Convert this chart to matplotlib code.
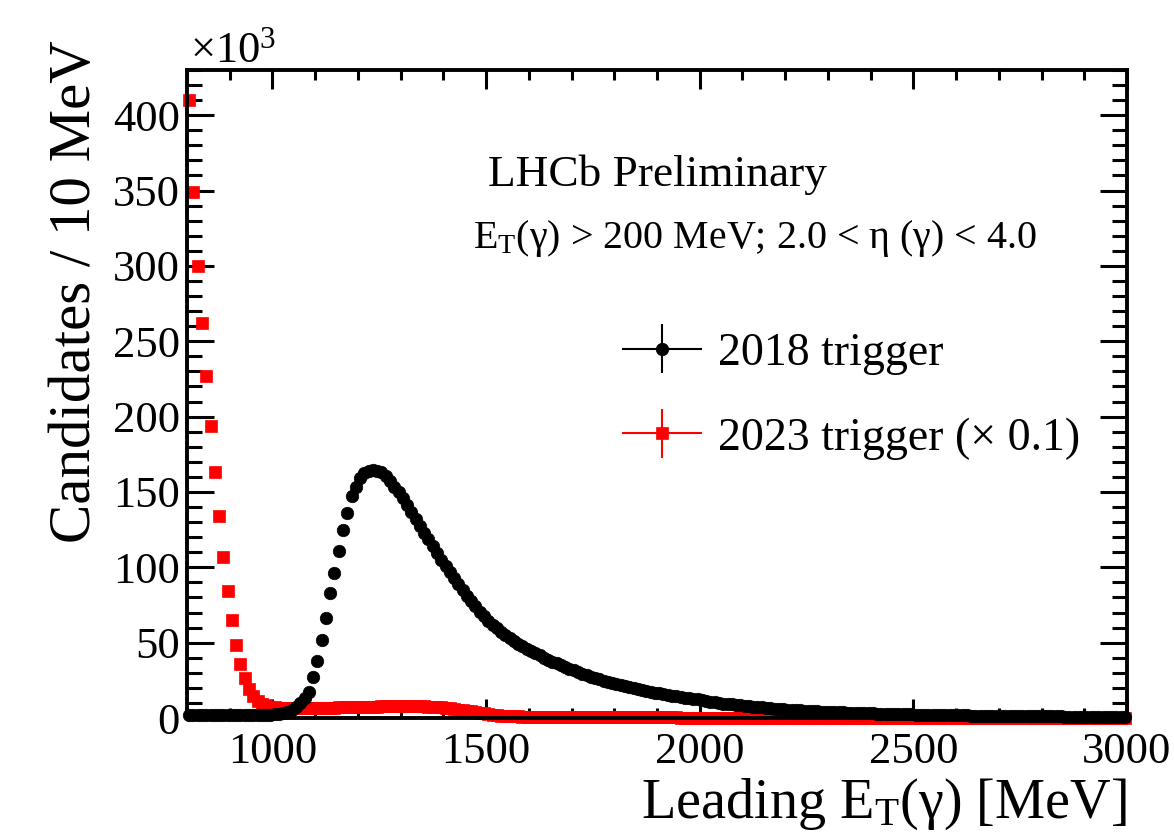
"""LHCb Preliminary: leading photon E_T, 2018 vs 2023 trigger."""

import numpy as np
import matplotlib
matplotlib.use("Agg")
import matplotlib.pyplot as plt
from matplotlib.ticker import MultipleLocator
from matplotlib.container import ErrorbarContainer
from matplotlib.legend_handler import HandlerErrorbar

plt.rcParams['font.family'] = ['Liberation Serif', 'DejaVu Serif']
plt.rcParams['mathtext.fontset'] = 'custom'
plt.rcParams['mathtext.rm'] = 'Liberation Serif'
plt.rcParams['mathtext.it'] = 'Liberation Serif:italic'
plt.rcParams['mathtext.bf'] = 'Liberation Serif:bold'

# histogram binning (MeV)
bin_lo = 800
bin_width = 10

# candidates per bin, in units of 10^3 (bins 800-810, 810-820, ...)
trig2018 = [
    2.2, 2.1, 2.0, 2.0, 1.9, 1.9, 1.9, 1.8, 1.8, 1.8,
    1.8, 1.8, 1.8, 1.8, 1.9, 1.9, 2.0, 2.0, 2.1, 2.2,
    2.4, 2.7, 3.2, 4.0, 5.2, 7.0, 10.0, 13.0, 17.5, 27.0,
    38.0, 52.0, 66.5, 83.0, 96.5, 110.5, 124.5, 136.0, 147.0, 153.5,
    159.0, 162.5, 164.0, 164.5, 164.0, 163.0, 160.5, 157.0, 153.5, 150.0,
    146.0, 141.5, 137.0, 132.0, 127.5, 123.0, 118.5, 114.0, 109.5, 105.0,
    101.0, 97.0, 93.0, 89.0, 85.0, 81.0, 77.5, 74.0, 70.5, 67.5,
    64.5, 62.0, 59.5, 57.0, 55.0, 53.0, 51.0, 49.0, 47.5, 46.0,
    44.5, 43.0, 41.5, 40.0, 38.7, 37.4, 36.2, 35.0, 33.8, 32.7,
    31.6, 30.5, 29.5, 28.5, 27.5, 26.6, 25.7, 24.8, 24.0, 23.2,
    22.4, 21.7, 21.0, 20.3, 19.7, 19.1, 18.5, 17.9, 17.3, 16.8,
    16.3, 15.8, 15.3, 14.8, 14.3, 13.9, 13.5, 13.1, 12.7, 12.3,
    11.7, 11.2, 10.8, 10.4, 10.0, 9.6, 9.3, 9.0, 8.7, 8.4,
    8.1, 7.8, 7.5, 7.2, 7.0, 6.7, 6.5, 6.3, 6.0, 5.8,
    5.6, 5.4, 5.2, 5.0, 4.9, 4.7, 4.5, 4.4, 4.3, 4.1,
    4.0, 3.9, 3.8, 3.7, 3.6, 3.5, 3.4, 3.3, 3.2, 3.1,
    3.0, 2.9, 2.9, 2.8, 2.7, 2.6, 2.6, 2.5, 2.4, 2.4,
    2.3, 2.3, 2.2, 2.1, 2.1, 2.0, 2.0, 1.9, 1.9, 1.8,
    1.8, 1.7, 1.7, 1.6, 1.6, 1.6, 1.5, 1.5, 1.4, 1.4,
    1.4, 1.3, 1.3, 1.3, 1.2, 1.2, 1.2, 1.1, 1.1, 1.1,
    1.1, 1.0, 1.0, 1.0, 1.0, 0.9, 0.9, 0.9, 0.9, 0.8,
    0.8, 0.8, 0.8, 0.8, 0.7, 0.7, 0.7, 0.7, 0.7, 0.6,
]

# 2023 trigger, already scaled by 0.1
trig2023 = [
    410.0, 349.0, 300.0, 262.0, 227.0, 194.0, 163.0, 134.0, 107.0, 84.0,
    65.0, 48.5, 36.0, 26.5, 19.5, 14.5, 11.5, 9.5, 8.3, 7.6,
    7.2, 6.9, 6.7, 6.6, 6.5, 6.5, 6.5, 6.5, 6.5, 6.5,
    6.6, 6.6, 6.7, 6.8, 6.9, 7.0, 7.1, 7.2, 7.3, 7.4,
    7.4, 7.5, 7.5, 7.6, 7.6, 7.7, 7.7, 7.8, 7.8, 7.8,
    7.9, 7.9, 7.9, 7.9, 7.8, 7.7, 7.6, 7.4, 7.2, 7.0,
    6.7, 6.4, 6.0, 5.6, 5.2, 4.8, 4.4, 4.0, 3.6, 3.2,
    2.6, 2.2, 1.9, 1.6, 1.4, 1.2, 1.1, 1.0, 0.9, 0.8,
    0.8, 0.7, 0.7, 0.7, 0.6, 0.6, 0.6, 0.6, 0.5, 0.5,
    0.5, 0.5, 0.5, 0.5, 0.5, 0.4, 0.4, 0.4, 0.4, 0.4,
    0.4, 0.4, 0.4, 0.4, 0.4, 0.4, 0.4, 0.4, 0.4, 0.4,
    0.4, 0.4, 0.4, 0.4, 0.4, 0.3, 0.3, 0.3, 0.3, 0.3,
    0.3, 0.3, 0.3, 0.3, 0.3, 0.3, 0.3, 0.3, 0.3, 0.3,
    0.3, 0.3, 0.3, 0.3, 0.3, 0.3, 0.3, 0.3, 0.3, 0.3,
    0.3, 0.3, 0.3, 0.3, 0.3, 0.3, 0.3, 0.3, 0.3, 0.3,
    0.3, 0.3, 0.3, 0.3, 0.3, 0.3, 0.3, 0.3, 0.3, 0.3,
    0.2, 0.2, 0.2, 0.2, 0.2, 0.2, 0.2, 0.2, 0.2, 0.2,
    0.2, 0.2, 0.2, 0.2, 0.2, 0.2, 0.2, 0.2, 0.2, 0.2,
    0.2, 0.2, 0.2, 0.2, 0.2, 0.2, 0.2, 0.2, 0.2, 0.2,
    0.2, 0.2, 0.2, 0.2, 0.2, 0.2, 0.2, 0.2, 0.2, 0.2,
    0.2, 0.2, 0.2, 0.2, 0.2, 0.2, 0.2, 0.2, 0.2, 0.2,
    0.2, 0.2, 0.2, 0.2, 0.2, 0.2, 0.2, 0.2, 0.2, 0.2,
]

label2018 = "2018 trigger"
label2023 = "2023 trigger (\u00d7 0.1)"

x = bin_lo + bin_width * (np.arange(len(trig2018)) + 0.5)

W, H = 1174, 839
fig = plt.figure(figsize=(W / 100, H / 100), dpi=100)
ax = fig.add_axes([187 / W, 1 - 718 / H, 940 / W, 648 / H])

style23 = dict(fmt='s', color='red', ms=9, mew=0.5, elinewidth=1.5, capsize=0)
style18 = dict(fmt='o', color='black', ms=9, mew=0.5, elinewidth=1.5, capsize=0)

# red first so black sits on top
ax.errorbar(x, trig2023, xerr=bin_width / 2, zorder=2, clip_on=False, **style23)
ax.errorbar(x, trig2018, xerr=bin_width / 2, zorder=3, clip_on=False, **style18)

# legend proxies with both error bars (ROOT "LPE" look)
p18 = ax.errorbar([np.nan], [np.nan], xerr=[1], yerr=[1], **style18)
p23 = ax.errorbar([np.nan], [np.nan], xerr=[1], yerr=[1], **style23)

ax.set_xlim(800, 3000)
ax.set_ylim(0, 430)
ax.set_xticks(np.arange(1000, 3001, 500))
ax.set_yticks(np.arange(0, 401, 50))
ax.xaxis.set_minor_locator(MultipleLocator(100))
ax.yaxis.set_minor_locator(MultipleLocator(10))

for s in ax.spines.values():
    s.set_linewidth(2.8)
ax.tick_params(axis='both', which='both', direction='in', top=True, right=True,
               width=2.2, labelsize=32)
ax.tick_params(axis='x', which='major', length=14, pad=10)
ax.tick_params(axis='x', which='minor', length=7)
ax.tick_params(axis='y', which='major', length=19.5, pad=5)
ax.tick_params(axis='y', which='minor', length=10.5)

# axis titles, ROOT style
fig.text(1127 / W, 1 - 818 / H, "Leading E$_{\\rm T}$(\u03b3) [MeV]",
         ha='right', va='baseline', fontsize=40.5)
fig.text(76 / W, 1 - 40 / H, "Candidates / 10 MeV", rotation=90,
         ha='center', va='top', fontsize=42.5)
fig.text(190 / W, 1 - 62 / H, "$\\times10^{3}$", ha='left', va='baseline',
         fontsize=32)

fig.text(488 / W, 1 - 186 / H, "LHCb Preliminary", ha='left',
         va='baseline', fontsize=32.7)
fig.text(473 / W, 1 - 248 / H,
         "E$_{\\rm T}$(\u03b3) > 200 MeV; 2.0 < \u03b7 (\u03b3) < 4.0",
         ha='left', va='baseline', fontsize=28.8)

leg = ax.legend([p18, p23], [label2018, label2023], loc='center left',
                bbox_to_anchor=(0.463, 0.497), frameon=False, fontsize=33,
                handlelength=1.75, handletextpad=0.35, borderpad=0,
                borderaxespad=0, labelspacing=0.92, numpoints=1,
                handler_map={ErrorbarContainer:
                             HandlerErrorbar(xerr_size=0.875, yerr_size=0.535)})

fig.savefig("out.png", dpi=100)
